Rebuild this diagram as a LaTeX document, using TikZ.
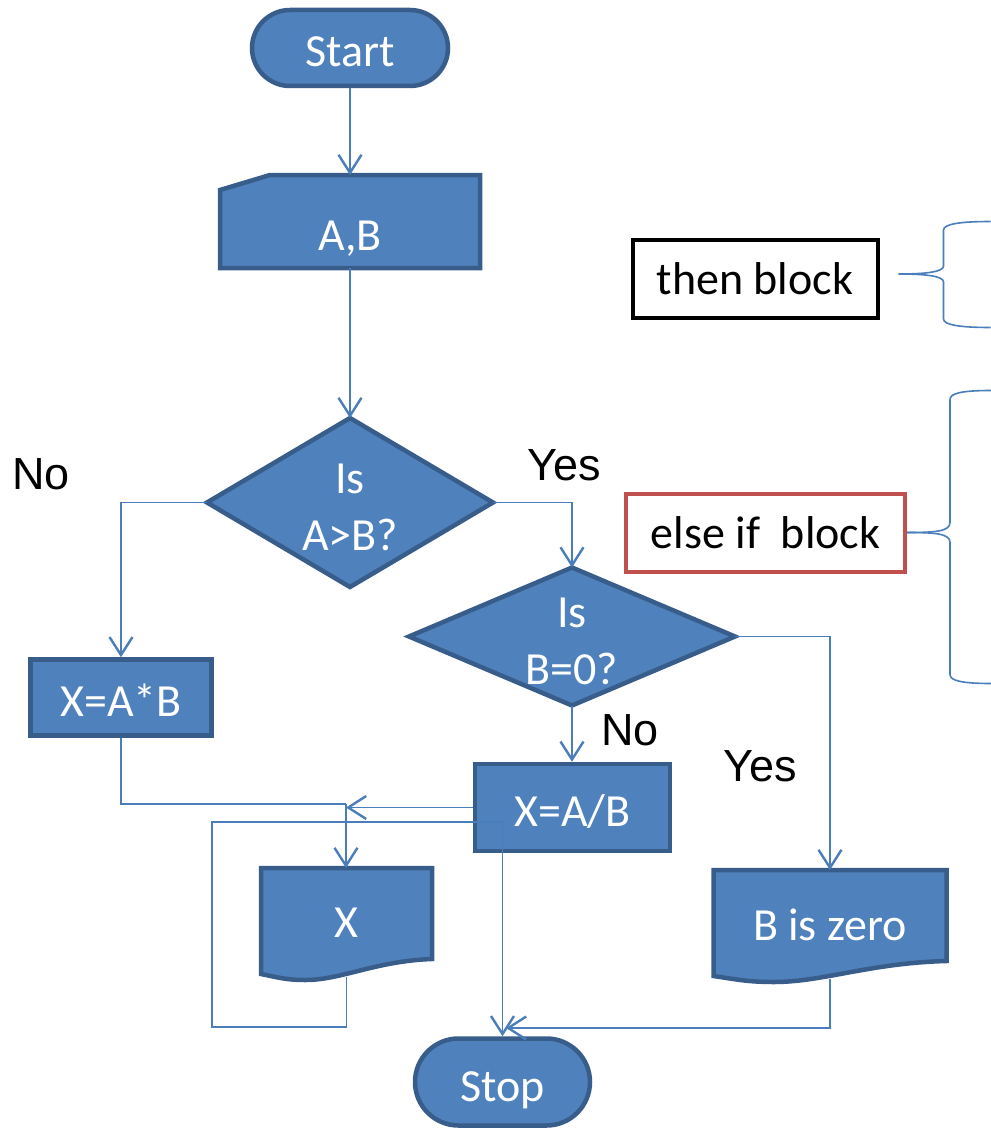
\documentclass[tikz,border=0pt]{standalone}
\usepackage{fontspec}
\setmainfont{Carlito}
\newfontfamily\arialfont{Liberation Sans}
\usetikzlibrary{arrows.meta,shapes.misc,calc}
\pgfdeclarelayer{bg}
\pgfsetlayers{bg,main}
\definecolor{flowfill}{HTML}{4F81BD}
\definecolor{flowedge}{HTML}{385D8A}
\definecolor{linkblue}{HTML}{4A7EBB}
\definecolor{elsered}{HTML}{C0504D}

\tikzset{
  boxtext/.style={text=white, font=\fontsize{46}{57}\selectfont},
  box/.style={boxtext, fill=flowfill, draw=flowedge, line width=4.5pt, inner sep=0pt,
    text height=38pt, text depth=0pt},
  term/.style={box, rounded rectangle},
  frame/.style={boxtext, inner sep=0pt, outer sep=2pt},
  outline/.style={fill=flowfill, draw=flowedge, line width=4.5pt, line join=miter},
  link/.style={draw=linkblue, line width=1.6pt},
  arrowed/.style={link, -{Straight Barb[length=18pt,width=23pt,line width=2.4pt]}},
  tag/.style={font=\arialfont\fontsize{45}{50}\selectfont, text=black, inner sep=0pt},
  note/.style={draw=black, line width=4pt, font=\fontsize{46}{57}\selectfont,
    inner sep=0pt, minimum height=78pt},
  brace/.style={draw=linkblue, line width=1.6pt},
}

% document symbol: flat top, wavy bottom
\newcommand\docoutline[1]{%
  \path[outline] let \p1=(#1.south west), \p2=(#1.south east), \n1={\x2-\x1} in
    (#1.north west) -- (#1.north east) -- (\x2,\y2+18pt)
    .. controls (\x2-0.33*\n1,\y2+16pt) and (\x1+0.47*\n1,\y1-3pt) .. (\x1+0.26*\n1,\y1-3pt)
    .. controls (\x1+0.14*\n1,\y1-3pt) and (\x1+0.09*\n1,\y1) .. (\x1,\y1+3pt) -- cycle;}

\begin{document}
\begin{tikzpicture}[x=1pt,y=-1pt]
\useasboundingbox (0,0) rectangle (990,1129);

% terminals and process boxes
\node[term, minimum width=196pt, minimum height=76pt] (start) at (350,48) {Start};
\node[frame, minimum width=256pt, minimum height=89pt,
      label={[boxtext,yshift=-17pt]center:{A,B}}] (ab) at (350,221.5) {};
\node[frame, minimum width=282pt, minimum height=165pt,
      label={[boxtext,align=center,yshift=-5pt]center:{Is\\A>B?}}] (q1) at (350,502.5) {};
\node[frame, minimum width=322pt, minimum height=134pt,
      label={[boxtext,align=center,yshift=-5pt]center:{Is\\B=0?}}] (q2) at (572,636.5) {};
\node[box, minimum width=181pt, minimum height=76pt] (mul) at (121,697.5) {X=A*B};
\node[box, minimum width=195pt, minimum height=87pt] (div) at (572.5,807.5) {X=A/B};
\node[frame, minimum width=167pt, minimum height=105pt] (out) at (346.5,922.5) {X};
\node[frame, minimum width=229pt, minimum height=105pt] (zero) at (830,924.5) {B is zero};
\node[term, minimum width=175pt, minimum height=87pt] (stop) at (502.5,1082) {Stop};

% outlines of the non-rectangular symbols
\begin{pgfonlayer}{bg}
  \path[outline] (ab.south west) -- ($(ab.north west)+(0,15)$) -- ($(ab.north west)+(50,0)$)
    -- (ab.north east) -- (ab.south east) -- cycle;
  \path[outline] (q1.north) -- (q1.east) -- (q1.south) -- (q1.west) -- cycle;
  \path[outline] (q2.north) -- (q2.east) -- (q2.south) -- (q2.west) -- cycle;
  \docoutline{out}
  \docoutline{zero}
\end{pgfonlayer}

% branch labels
\node[tag] (no1) at (41,474) {No};
\node[tag] (yes1) at (564,465) {Yes};
\node[tag] (no2) at (630,730) {No};
\node[tag] (yes2) at (760,766) {Yes};

% side notes
\node[note, minimum width=245pt] (thenb) at (755,279) {then block};
\node[note, draw=elsered, minimum width=279pt] (elseb) at (765.5,532.5) {else if~ block};

% connectors
\draw[arrowed] (start) -- (ab);
\draw[arrowed] (ab) -- (q1);
\draw[arrowed] (q1.west) -| (mul.north);
\draw[arrowed] (q1.east) -| (q2.north);
\draw[arrowed] (q2.south) -- (q2.south |- div.north);
\draw[arrowed] (q2.east) -| (zero.north);

\coordinate (merge) at (346,804);
\draw[link] (mul.south) |- (merge);
\draw[arrowed] (div.west) -- (div.west -| merge);
\draw[arrowed] (merge) -- (merge |- out.north);

\coordinate (loopbl) at (212,1027);
\coordinate (looptl) at (212,822);
\draw[arrowed] (out.south) |- (loopbl) -- (looptl) -| (stop.north);

\coordinate (stopin) at (506,1028);
\draw[arrowed] (zero.south) |- (stopin);

% braces beside the notes
\coordinate (tip1) at ($(thenb.east)+(19,-5)$);
\draw[brace] (tip1) .. controls +(27,0) and +(0,6) .. ++(45,-8) -- ++(0,-36)
  .. controls +(0,-6) and +(-30,0) .. ++(47,-8.5);
\draw[brace] (tip1) .. controls +(27,0) and +(0,-6) .. ++(45,8) -- ++(0,37)
  .. controls +(0,6) and +(-30,0) .. ++(47,8.5);
\coordinate (tip2) at ($(elseb.east)+(0,0)$);
\draw[brace] (tip2) .. controls +(28,0) and +(0,9) .. ++(43,-10) -- ++(0,-123)
  .. controls +(0,-6) and +(-30,0) .. ++(41,-9);
\draw[brace] (tip2) .. controls +(28,0) and +(0,-9) .. ++(43,10) -- ++(0,132)
  .. controls +(0,6) and +(-30,0) .. ++(41,9);
\end{tikzpicture}
\end{document}
